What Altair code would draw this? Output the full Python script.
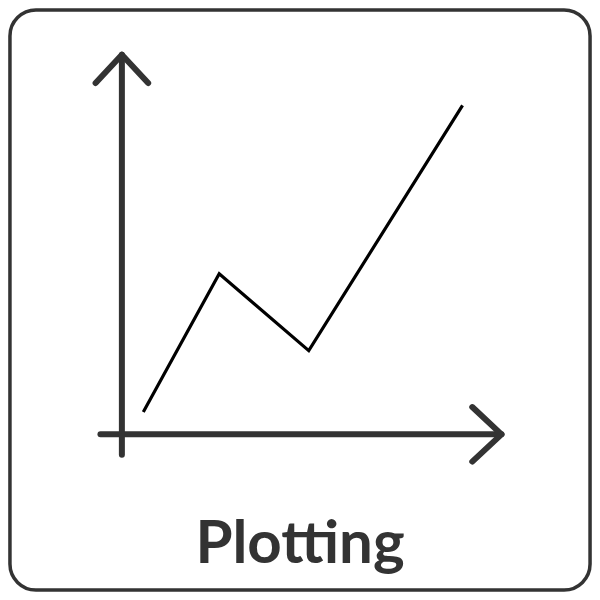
import altair as alt
import pandas as pd

# plot units: origin where the two axes cross, one unit ~ one pixel of the icon
line_x = [22, 100, 192, 350]
line_y = [23, 165, 86, 338]

# axes with their arrow heads, as polylines (segment id, point order)
axis_seg = ["x_axis", "x_axis", "y_axis", "y_axis",
            "x_head", "x_head", "x_head", "y_head", "y_head", "y_head"]
axis_x = [-22, 390, 0, 0, 360, 390, 360, -27, 0, 27]
axis_y = [0, 0, -21, 390, 28, 0, -28, 361, 390, 361]

# frame around the icon
frame_x = [-115]
frame_x2 = [481]
frame_y = [436]
frame_y2 = [-160]

label = ["Plotting"]
label_x = [183]
label_y = [-114]

x_domain = [-117, 483]
y_domain = [-162, 438]

ink = "#333333"

line_df = pd.DataFrame({"x": line_x, "y": line_y, "i": range(len(line_x))})
axis_df = pd.DataFrame({"seg": axis_seg, "x": axis_x, "y": axis_y,
                        "i": range(len(axis_x))})
frame_df = pd.DataFrame({"x": frame_x, "x2": frame_x2, "y": frame_y, "y2": frame_y2})
label_df = pd.DataFrame({"text": label, "x": label_x, "y": label_y})

xs = alt.Scale(domain=x_domain, nice=False, zero=False)
ys = alt.Scale(domain=y_domain, nice=False, zero=False)
no_axis = None

frame = alt.Chart(frame_df).mark_rect(
    filled=False, stroke=ink, strokeWidth=3.5, cornerRadius=26
).encode(
    x=alt.X("x:Q", scale=xs, axis=no_axis),
    x2="x2:Q",
    y=alt.Y("y:Q", scale=ys, axis=no_axis),
    y2="y2:Q",
)

axes = alt.Chart(axis_df).mark_line(
    color=ink, strokeWidth=6, strokeCap="round", strokeJoin="round"
).encode(
    x=alt.X("x:Q", scale=xs, axis=no_axis),
    y=alt.Y("y:Q", scale=ys, axis=no_axis),
    detail="seg:N",
    order="i:Q",
)

series = alt.Chart(line_df).mark_line(
    color="#000000", strokeWidth=3.2, strokeJoin="miter"
).encode(
    x=alt.X("x:Q", scale=xs, axis=no_axis),
    y=alt.Y("y:Q", scale=ys, axis=no_axis),
    order="i:Q",
)

title = alt.Chart(label_df).mark_text(
    font="Lato", fontSize=60, fontWeight="bold", color=ink,
    align="center", baseline="middle"
).encode(
    x=alt.X("x:Q", scale=xs, axis=no_axis),
    y=alt.Y("y:Q", scale=ys, axis=no_axis),
    text="text:N",
)

chart = alt.layer(frame, axes, series, title).properties(
    width=584, height=584, padding=0
).configure_view(stroke=None)

chart.save("out.html", embed_options={"renderer": "svg", "actions": False})
